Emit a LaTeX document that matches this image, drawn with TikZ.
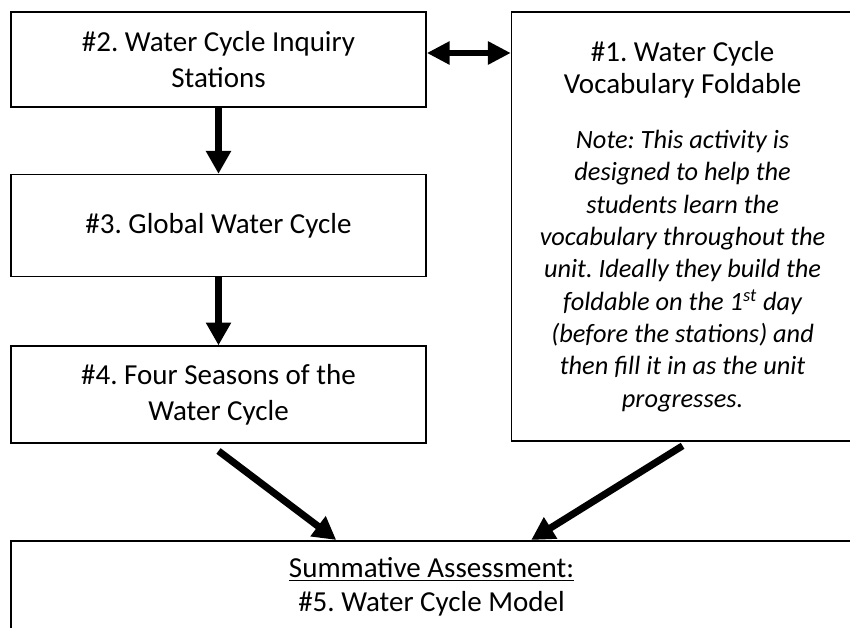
\documentclass[tikz,border=0pt]{standalone}
\usepackage{fontspec}
\setmainfont{Carlito}
\frenchspacing
\usetikzlibrary{positioning, arrows.meta}

\begin{document}
\begin{tikzpicture}[x=0.2mm, y=-0.2mm,
    box/.style={draw, line width=0.9pt, minimum width=83mm, align=flush center, inner sep=0,
      font=\fontsize{16.5}{20.4}\selectfont},
    flow/.style={line width=4pt, -{Triangle[width=13.6pt, length=13pt]}},
    link/.style={line width=3.5pt, {Triangle[width=12.5pt, length=13pt]}-{Triangle[width=12.5pt, length=13pt]}}]

  \useasboundingbox (0,0) rectangle (850,627);
  \clip (0,0) rectangle (850,627);

  \node[box, minimum height=19mm] (box2) at (218.5,59.5) {\#2. Water Cycle Inquiry\\Stations};
  \node[box, minimum height=20.4mm, below=13.2mm of box2] (box3) {\#3. Global Water Cycle};
  \node[box, minimum height=19.4mm, below=13.6mm of box3] (box4) {\#4. Four Seasons of the\\Water Cycle};
  \node[box, minimum width=68.4mm, minimum height=85.8mm, text width=66mm,
    right=16.8mm of box2.north east, anchor=north west] (box1) {\fontsize{16.5}{18.4}\selectfont
    \#1. Water Cycle\\Vocabulary Foldable\\[12.8pt]
    \fontsize{15}{18.4}\selectfont\itshape
    Note: This activity is\\designed to help the\\students learn the\\vocabulary throughout the\\
    unit. Ideally they build the\\foldable on the 1\textsuperscript{st} day\\(before the stations) and\\
    then fill it in as the unit\\progresses.\par};
  \node[box, minimum width=168.2mm, minimum height=18.4mm, font=\fontsize{16.5}{19.3}\selectfont,
    below=19.2mm of box4.south west, anchor=north west] (box5)
    {\underline{Summative Assessment:}\\\#5. Water Cycle Model};

  \draw[flow] (box2) -- (box3);
  \draw[flow] (box3) -- (box4);
  \draw[link] ([yshift=1.3mm]box2.east) -- ([yshift=1.3mm]box2.east -| box1.west);
  \draw[flow] ([yshift=-1.4mm]box4.south) -- ([xshift=65.2mm]box5.north west);
  \draw[flow] ([yshift=-0.8mm]box1.south) -- ([xshift=104.2mm]box5.north west);
\end{tikzpicture}
\end{document}
